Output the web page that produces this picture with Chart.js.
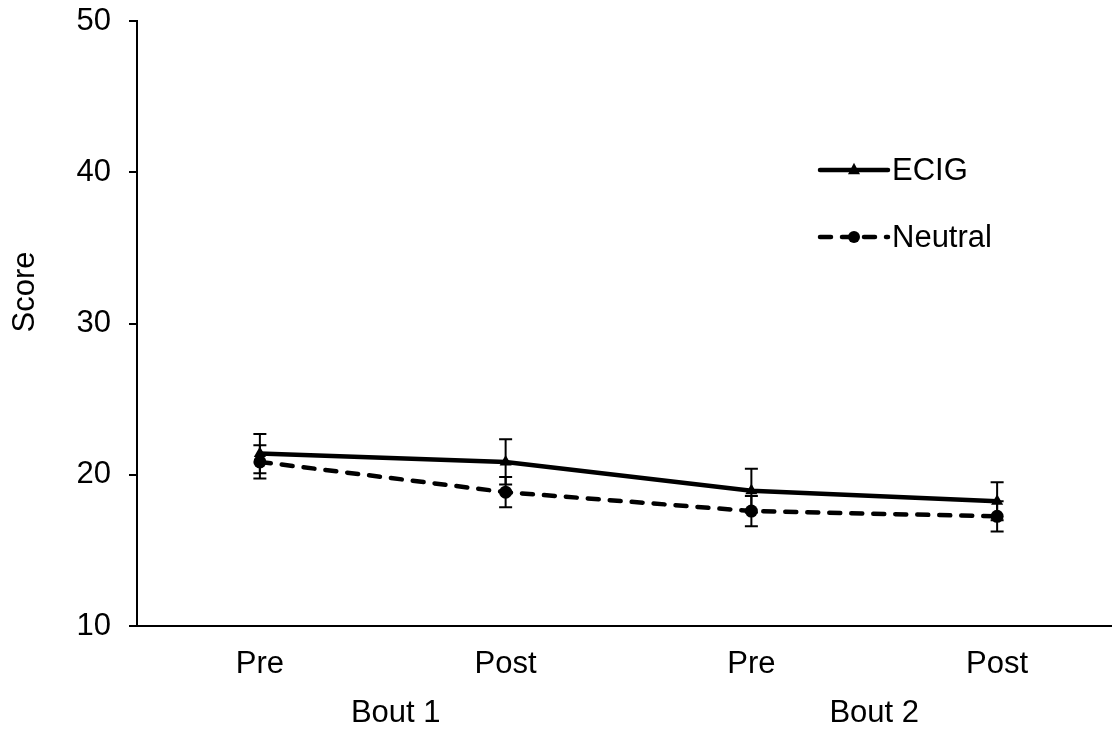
<!DOCTYPE html>
<html><head><meta charset="utf-8">
<script src="https://cdn.jsdelivr.net/npm/chart.js@4/dist/chart.umd.min.js"></script>
<style>html,body{margin:0;padding:0;background:#fff;overflow:hidden}#wrap{width:1112px;height:733px;overflow:hidden}</style>
</head><body><div id="wrap"><canvas id="c" width="1127" height="733"></canvas></div>
<script>
const categories = ['Pre', 'Post', 'Pre', 'Post'];
const groups = ['Bout 1', 'Bout 2'];
const ecig = [21.4, 20.85, 18.95, 18.25];
const ecigErr = [1.3, 1.5, 1.45, 1.25];
const neutral = [20.85, 18.85, 17.6, 17.25];
const neutralErr = [1.1, 1.0, 1.0, 1.0];
const seriesNames = ['ECIG', 'Neutral'];
const yTitle = 'Score';
const yMin = 10, yMax = 50, yStep = 10;

const FONT = 'Liberation Sans, Arial, sans-serif';
const FS = 31;

function noPad(s) { s.paddingTop = 0; s.paddingBottom = 0; s.paddingLeft = 0; s.paddingRight = 0; }

const errorBars = {
  id: 'errorBars',
  afterDatasetsDraw(chart) {
    const ctx = chart.ctx, y = chart.scales.y;
    chart.data.datasets.forEach((ds, di) => {
      const meta = chart.getDatasetMeta(di);
      ctx.save();
      ctx.strokeStyle = '#000';
      ctx.lineWidth = 2;
      meta.data.forEach((pt, i) => {
        const e = ds.errors[i], v = ds.data[i];
        const yt = y.getPixelForValue(v + e), yb = y.getPixelForValue(v - e);
        const x = pt.x, w = 6.5;
        ctx.beginPath();
        ctx.moveTo(x, yt); ctx.lineTo(x, yb);
        ctx.moveTo(x - w, yt); ctx.lineTo(x + w, yt);
        ctx.moveTo(x - w, yb); ctx.lineTo(x + w, yb);
        ctx.stroke();
      });
      ctx.restore();
    });
  }
};

const extras = {
  id: 'extras',
  afterDraw(chart) {
    const ctx = chart.ctx;
    // y-axis title
    ctx.save();
    ctx.translate(25, 292);
    ctx.rotate(-Math.PI / 2);
    ctx.font = FS + 'px ' + FONT;
    ctx.fillStyle = '#000';
    ctx.textAlign = 'center';
    ctx.textBaseline = 'middle';
    ctx.fillText(yTitle, 0, 0);
    ctx.restore();
    // group labels under pairs of categories
    const xs = chart.scales.x;
    const nudge = [13, 0];
    ctx.save();
    ctx.font = FS + 'px ' + FONT;
    ctx.fillStyle = '#000';
    ctx.textAlign = 'center';
    ctx.textBaseline = 'middle';
    groups.forEach((g, gi) => {
      const cx = (xs.getPixelForValue(gi * 2) + xs.getPixelForValue(gi * 2 + 1)) / 2 + nudge[gi];
      ctx.fillText(g, cx, 713);
    });
    ctx.restore();
    // legend inside plot
    const items = chart.data.datasets;
    const x0 = 820, x1 = 888, rows = [170, 237];
    items.forEach((ds, i) => {
      const yy = rows[i];
      ctx.save();
      ctx.strokeStyle = '#000';
      ctx.lineWidth = ds.borderWidth;
      ctx.lineCap = 'round';
      ctx.setLineDash(ds.borderDash || []);
      ctx.beginPath(); ctx.moveTo(x0, yy); ctx.lineTo(x1, yy); ctx.stroke();
      ctx.setLineDash([]);
      ctx.fillStyle = '#000';
      const cx = (x0 + x1) / 2, r = 6;
      ctx.beginPath();
      if (ds.pointStyle === 'triangle') {
        ctx.moveTo(cx, yy - r * 1.2); ctx.lineTo(cx + r, yy + r * 0.7); ctx.lineTo(cx - r, yy + r * 0.7); ctx.closePath();
      } else {
        ctx.arc(cx, yy, r, 0, Math.PI * 2);
      }
      ctx.fill();
      ctx.font = FS + 'px ' + FONT;
      ctx.textBaseline = 'middle';
      ctx.textAlign = 'left';
      ctx.fillText(ds.label, x1 + 4, yy + 1);
      ctx.restore();
    });
  }
};

new Chart(document.getElementById('c'), {
  type: 'line',
  data: {
    labels: categories,
    datasets: [
      { label: seriesNames[0], data: ecig, errors: ecigErr, borderColor: '#000', backgroundColor: '#000',
        borderWidth: 4.5, pointStyle: 'triangle', pointRadius: 7, pointBorderWidth: 0, tension: 0,
        borderCapStyle: 'round' },
      { label: seriesNames[1], data: neutral, errors: neutralErr, borderColor: '#000', backgroundColor: '#000',
        borderWidth: 4.5, borderDash: [11, 11], borderCapStyle: 'round', pointStyle: 'circle', pointRadius: 6.5,
        pointBorderWidth: 0, tension: 0 }
    ]
  },
  options: {
    responsive: false,
    animation: false,
    devicePixelRatio: 1,
    layout: { padding: { top: 21, right: 0, left: 0, bottom: 0 } },
    plugins: { legend: { display: false }, tooltip: { enabled: false } },
    scales: {
      x: {
        type: 'category', labels: categories, offset: true, position: 'bottom',
        grid: { display: false, drawTicks: false },
        border: { display: true, color: '#000', width: 2 },
        ticks: { color: '#000', font: { family: FONT, size: FS }, padding: 20, maxRotation: 0 },
        afterFit: s => { s.height = 107; noPad(s); }
      },
      y: {
        min: yMin, max: yMax,
        ticks: { stepSize: yStep, color: '#000', font: { family: FONT, size: FS }, padding: 18 },
        grid: { drawOnChartArea: false, drawTicks: true, tickLength: 8, color: '#000', lineWidth: 2 },
        border: { display: true, color: '#000', width: 2 },
        afterFit: s => { s.width = 137; noPad(s); }
      }
    }
  },
  plugins: [errorBars, extras]
});
</script>
</body></html>
